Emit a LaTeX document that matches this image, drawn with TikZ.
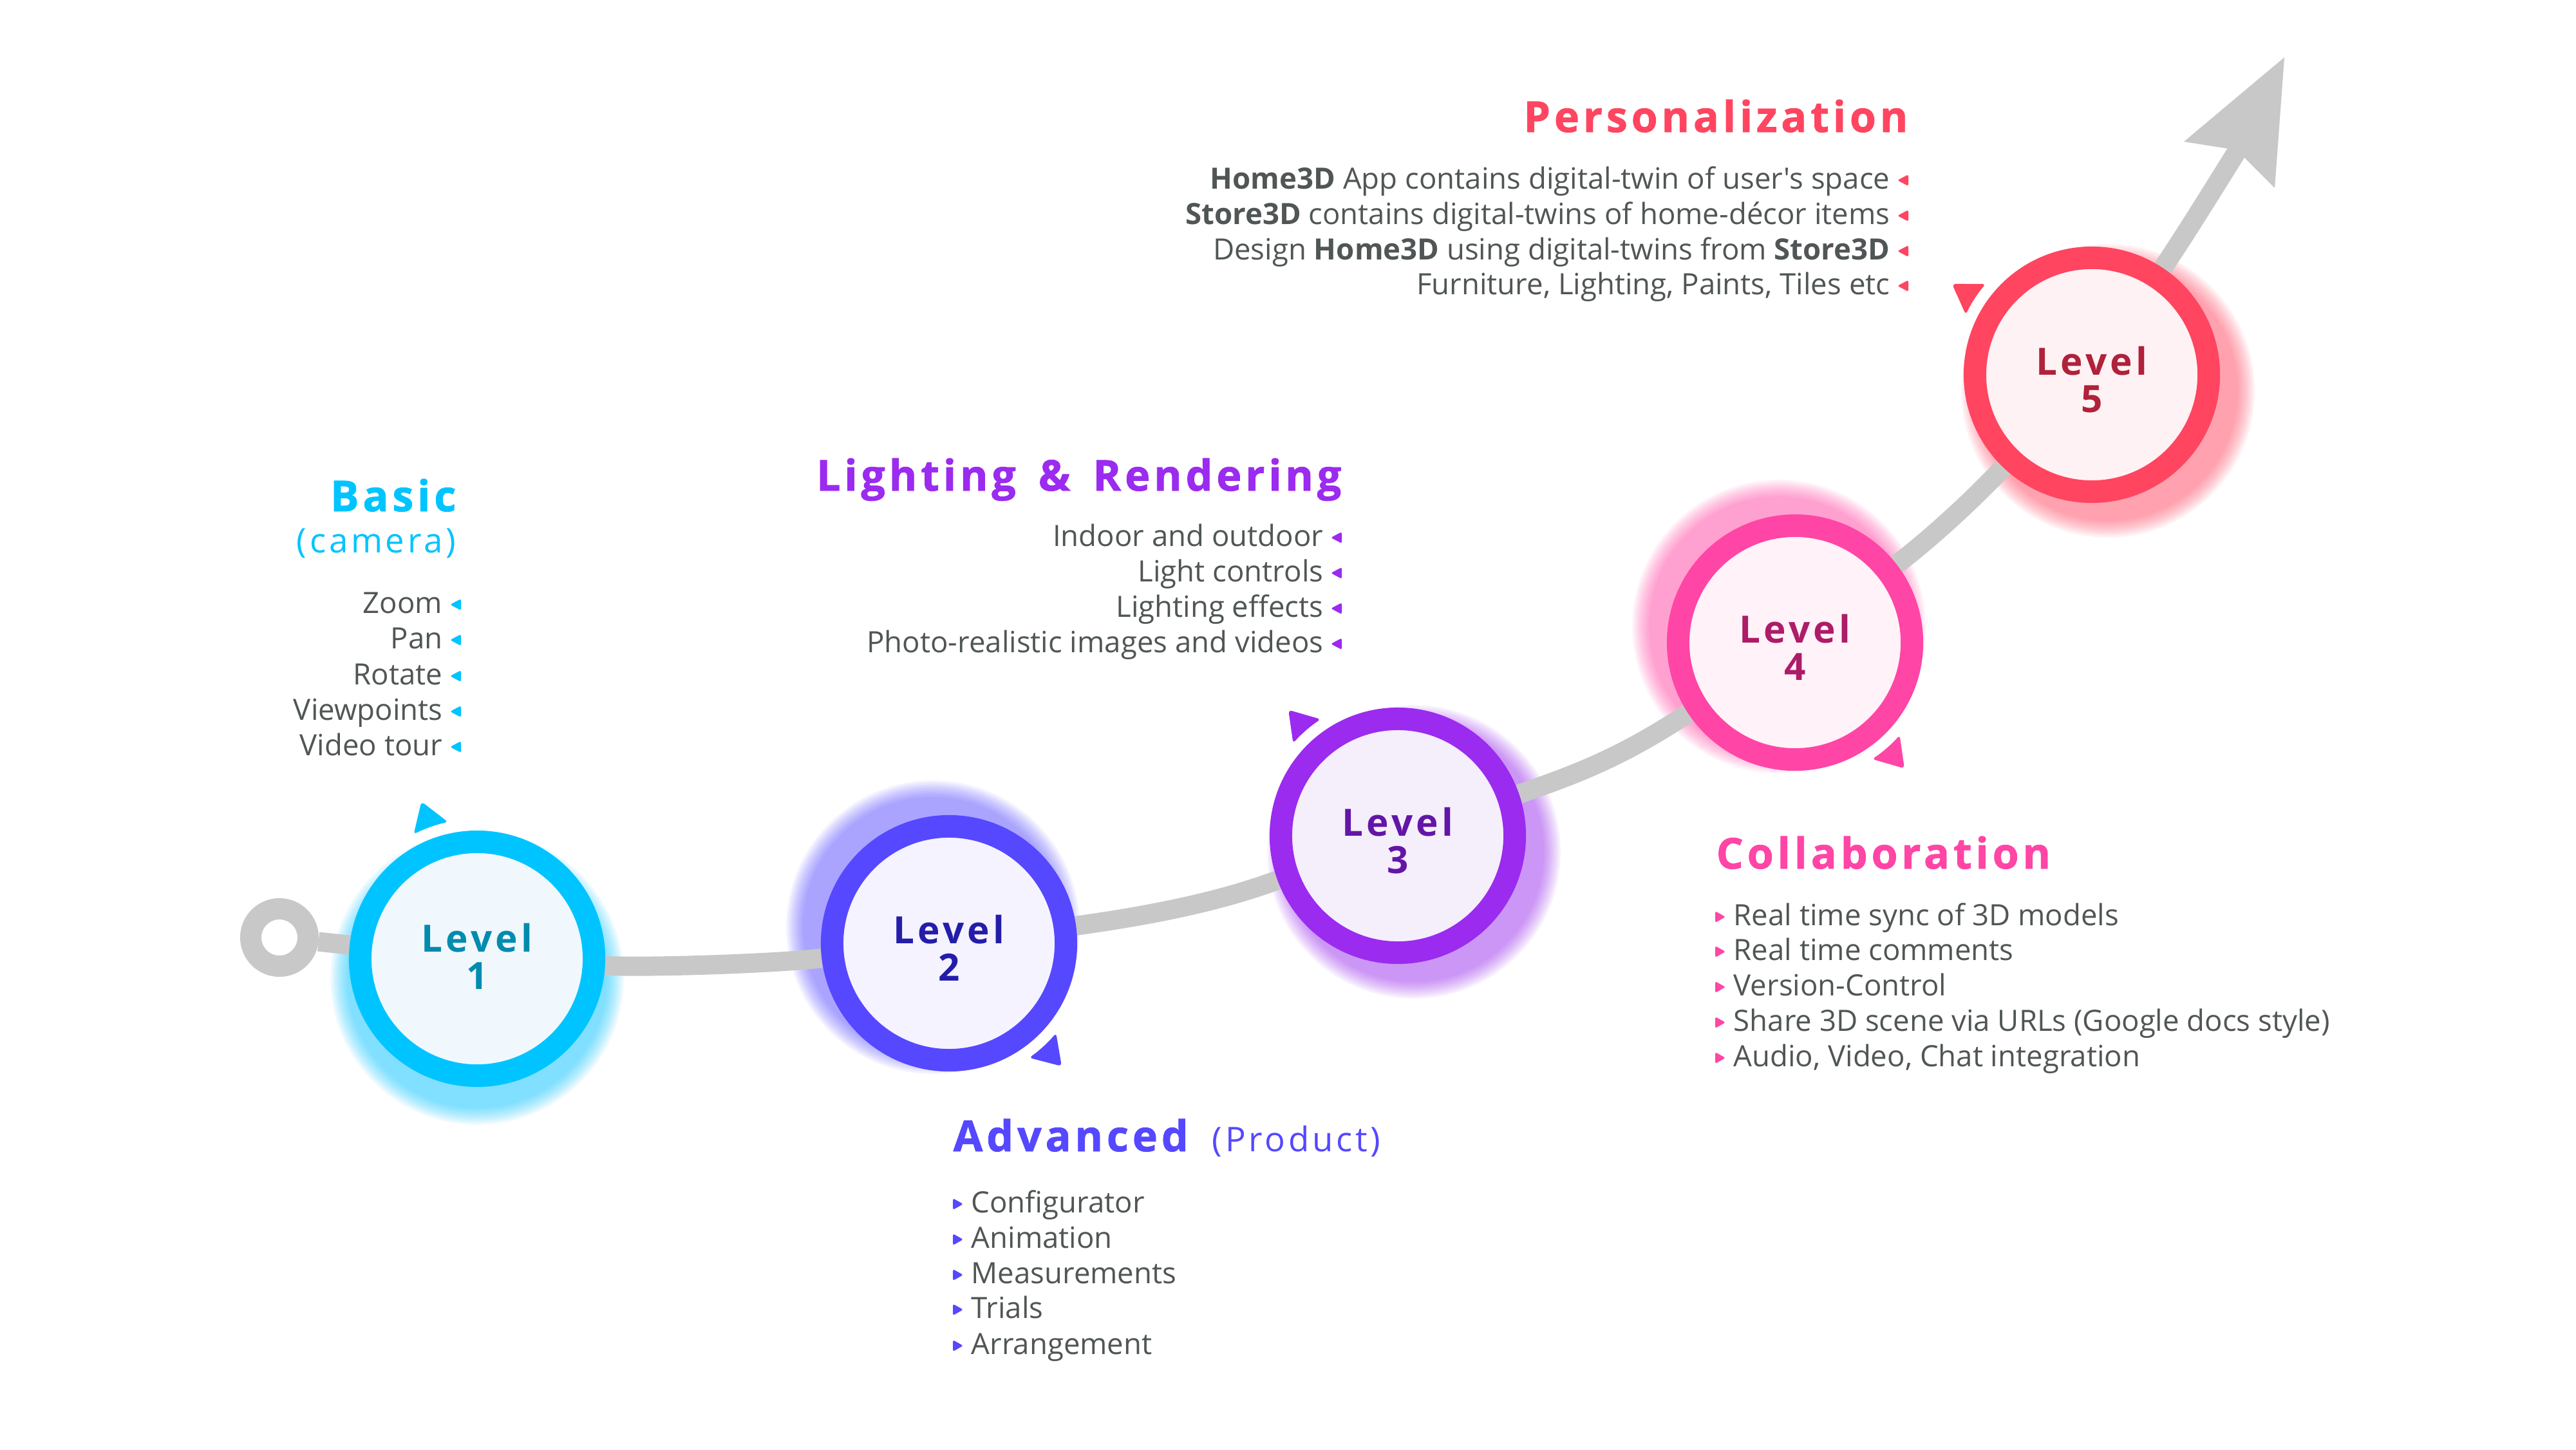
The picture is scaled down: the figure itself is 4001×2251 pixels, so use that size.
\documentclass[tikz,border=0pt]{standalone}
\usepackage{fontspec}
\setmainfont{Open Sans}[Ligatures=TeXOff]
\newfontfamily\spfont{Open Sans}[LetterSpace=9,Ligatures=TeXOff]
\newfontfamily\ttlfont{Open Sans}[UprightFont={* Bold},LetterSpace=9,Ligatures=TeXOff,FakeBold=1.2]
\usetikzlibrary{calc}
\definecolor{cA}{HTML}{00C4FF}\definecolor{fA}{HTML}{F0F8FD}\definecolor{tA}{HTML}{008BAF}
\definecolor{cB}{HTML}{5548FF}\definecolor{fB}{HTML}{F5F3FF}\definecolor{tB}{HTML}{241DAA}
\definecolor{cC}{HTML}{9B2BEF}\definecolor{fC}{HTML}{F5EEFB}\definecolor{tC}{HTML}{6216A7}
\definecolor{cD}{HTML}{FF45A5}\definecolor{fD}{HTML}{FFF2F8}\definecolor{tD}{HTML}{AD1C68}
\definecolor{cE}{HTML}{FF4560}\definecolor{fE}{HTML}{FFF2F4}\definecolor{tE}{HTML}{B0213A}
\definecolor{trackc}{HTML}{C8C8C8}\definecolor{txt}{HTML}{505555}
\pgfdeclarelayer{bgl}\pgfdeclarelayer{glowl}\pgfdeclarelayer{pathl}
\pgfsetlayers{bgl,glowl,pathl,main}
\tikzset{
 lvl/.style={circle, minimum size=3.63cm, inner sep=0pt, line width=0.35cm},
 trackline/.style={draw=trackc, line width=0.30cm},
 lvltxt/.style={font=\spfont\bfseries\fontsize{16.6}{18}\selectfont, inner sep=0pt, anchor=base},
 ttl/.style={font=\ttlfont\fontsize{18.8}{22}\selectfont, inner sep=0pt},
 subt/.style={font=\spfont\fontsize{15}{18}\selectfont, inner sep=0pt},
 itm/.style={font=\fontsize{12.95}{15}\selectfont, text=txt, inner sep=0pt},
}
\newcommand\ptr[3]{\fill[#3, rounded corners=1.5pt] ($(#1)+({#2}:259)$) -- ($(#1)+({#2+7.5}:217)$) arc[start angle={#2+7.5}, end angle={#2-7.5}, radius=217] -- cycle;}
\newcommand\glow[4]{\foreach \k in {1,...,9} {\fill[#4, opacity=0.07] ($(#1)+(#2,#3)$) circle[radius={199+\k*3.2}];}}
\newcommand\ritem[5]{\node[itm, anchor=base east] (#1) at (#2,#3) {#4}; \fill[#5, rounded corners=0.8pt] ($(#1.base east)+(11,-13)$) -- ++(17,-9) -- ++(0,18) -- cycle;}
\newcommand\litem[5]{\node[itm, anchor=base west] (#1) at (#2,#3) {#4}; \fill[#5, rounded corners=0.8pt] ($(#1.base west)+(-12,-13)$) -- ++(-16,-9) -- ++(0,18) -- cycle;}
\begin{document}
\begin{tikzpicture}[x=0.01cm, y=-0.01cm]
\begin{pgfonlayer}{bgl}
\fill[white] (0,0) rectangle (4001,2251);
\end{pgfonlayer}
\useasboundingbox (0,0) rectangle (4001,2251);
% level circles
\node[lvl, draw=cA, fill=fA] (l1) at (741,1489) {};
\node[lvl, draw=cB, fill=fB] (l2) at (1474,1465) {};
\node[lvl, draw=cC, fill=fC] (l3) at (2171,1298) {};
\node[lvl, draw=cD, fill=fD] (l4) at (2788,998) {};
\node[lvl, draw=cE, fill=fE] (l5) at (3249,582) {};
\node[circle, draw=trackc, fill=white, line width=0.33cm, minimum size=0.89cm, inner sep=0pt] (s) at (434,1456) {};
\coordinate (ah) at (3480,226);
\coordinate (tip) at (3548,89);
\coordinate (bR) at (3533,292);
\coordinate (nt) at (3474,233);
\coordinate (bL) at (3392,220);
\begin{pgfonlayer}{glowl}
\glow{l1}{0}{30}{cA}
\glow{l2}{-25}{-25}{cB}
\glow{l3}{25}{25}{cC}
\glow{l4}{-25}{-25}{cD}
\glow{l5}{25}{25}{cE}
\end{pgfonlayer}
\begin{pgfonlayer}{pathl}
\draw[trackline] (s) -- (l1);
\draw[trackline] (l1) .. controls (1000,1503) and (1200,1497) .. (l2);
\draw[trackline] (l2) .. controls (1800,1420) and (1900,1398) .. (l3);
\draw[trackline] (l3) .. controls (2450,1202) and (2520,1175) .. (l4);
\draw[trackline] (l4) .. controls (3000,835) and (3060,780) .. (l5);
\draw[trackline] (l5) .. controls (3400,355) and (3440,290) .. (ah);
\fill[fill=trackc] (tip) -- (bR) -- (nt) -- (bL) -- cycle;
\end{pgfonlayer}
% pointers
\ptr{l1}{-109.5}{cA}
\ptr{l2}{47.5}{cB}
\ptr{l3}{-131}{cC}
\ptr{l4}{49}{cD}
\ptr{l5}{-147}{cE}
% level labels
\node[lvltxt, text=tA] (l1a) at ($(l1)+(0,-11)$) {Level};
\node[lvltxt, text=tA] (l1b) at ($(l1)+(0,47)$) {1};
\node[lvltxt, text=tB] (l2a) at ($(l2)+(0,0)$) {Level};
\node[lvltxt, text=tB] (l2b) at ($(l2)+(0,58)$) {2};
\node[lvltxt, text=tC] (l3a) at ($(l3)+(0,0)$) {Level};
\node[lvltxt, text=tC] (l3b) at ($(l3)+(0,58)$) {3};
\node[lvltxt, text=tD] (l4a) at ($(l4)+(0,0)$) {Level};
\node[lvltxt, text=tD] (l4b) at ($(l4)+(0,58)$) {4};
\node[lvltxt, text=tE] (l5a) at ($(l5)+(0,0)$) {Level};
\node[lvltxt, text=tE] (l5b) at ($(l5)+(0,58)$) {5};
% Basic
\node[ttl, text=cA, anchor=base east] (tb) at (709,794) {Basic};
\node[subt, text=cA, anchor=base east] (tbs) at (709,858) {(camera)};
\ritem{b1}{688}{952}{Zoom}{cA}
\ritem{b2}{688}{1007}{Pan}{cA}
\ritem{b3}{688}{1063}{Rotate}{cA}
\ritem{b4}{688}{1118}{Viewpoints}{cA}
\ritem{b5}{688}{1173}{Video tour}{cA}
% Lighting
\node[ttl, text=cC, anchor=base east] (tl) at (2084,762) {Lighting\hspace{0.12cm} \&\hspace{0.12cm} Rendering};
\ritem{g1}{2056}{848}{Indoor and outdoor}{cC}
\ritem{g2}{2056}{903}{Light controls}{cC}
\ritem{g3}{2056}{958}{Lighting effects}{cC}
\ritem{g4}{2056}{1013}{Photo-realistic images and videos}{cC}
% Personalization
\node[ttl, text=cE, anchor=base east] (tp) at (2964,205) {Personalization};
\ritem{p1}{2936}{293}{\textbf{Home3D} App contains digital-twin of user's space}{cE}
\ritem{p2}{2936}{348}{\textbf{Store3D} contains digital-twins of home-décor items}{cE}
\ritem{p3}{2936}{403}{Design \textbf{Home3D} using digital-twins from \textbf{Store3D}}{cE}
\ritem{p4}{2936}{457}{Furniture, Lighting, Paints, Tiles etc}{cE}
% Collaboration
\node[ttl, text=cD, anchor=base west] (tc) at (2665,1349) {Collaboration};
\litem{c1}{2692}{1437}{Real time sync of 3D models}{cD}
\litem{c2}{2692}{1491}{Real time comments}{cD}
\litem{c3}{2692}{1546}{Version-Control}{cD}
\litem{c4}{2692}{1601}{Share 3D scene via URLs (Google docs style)}{cD}
\litem{c5}{2692}{1656}{Audio, Video, Chat integration}{cD}
% Advanced
\node[ttl, text=cB, anchor=base west] (ta) at (1480,1788) {Advanced};
\node[subt, text=cB, anchor=base west] (tas) at (1882,1788) {(Product)};
\litem{a1}{1508}{1883}{Configurator}{cB}
\litem{a2}{1508}{1938}{Animation}{cB}
\litem{a3}{1508}{1993}{Measurements}{cB}
\litem{a4}{1508}{2047}{Trials}{cB}
\litem{a5}{1508}{2103}{Arrangement}{cB}
\end{tikzpicture}
\end{document}
